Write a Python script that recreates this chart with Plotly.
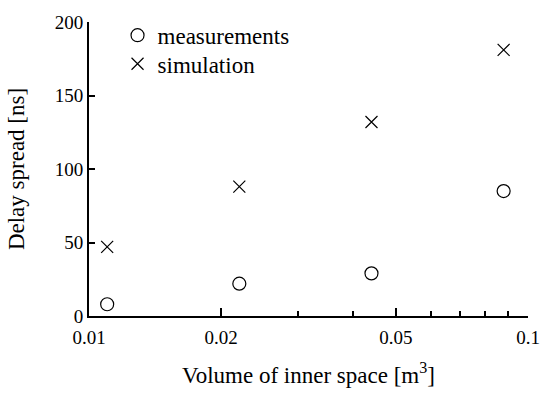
import plotly.graph_objects as go

# Inner-space volume [m^3] and delay spread [ns]
volume = [0.011, 0.022, 0.044, 0.088]
measured = [8, 22, 29, 85]
simulated = [47, 88, 132, 181]

x_ticks = [0.01, 0.02, 0.05, 0.1]
x_tick_text = ["0.01", "0.02", "0.05", "0.1"]
x_minor = [0.03, 0.04, 0.06, 0.07, 0.08, 0.09]
y_ticks = [0, 50, 100, 150, 200]

FAMILY = "Liberation Serif"


def serif(size):
    return dict(family=FAMILY, size=size, color="black")


def legend_box(y):
    return dict(x=0.065, y=y, xanchor="left", yanchor="top",
                bgcolor="rgba(0,0,0,0)", font=serif(23))


fig = go.Figure()
fig.add_trace(go.Scatter(
    x=volume, y=measured, mode="markers", name="measurements",
    legend="legend",
    marker=dict(symbol="circle-open", size=13, color="black",
                line=dict(width=1.2, color="black")),
))
fig.add_trace(go.Scatter(
    x=volume, y=simulated, mode="markers", name="simulation",
    legend="legend2",
    marker=dict(symbol="x-thin-open", size=12, color="black",
                line=dict(width=1.2, color="black")),
))

fig.update_layout(
    width=552, height=401,
    margin=dict(l=89, r=13, t=16, b=85),
    paper_bgcolor="white", plot_bgcolor="white",
    font=serif(19),
    showlegend=True,
    legend=legend_box(1.028),
    legend2=legend_box(0.931),
    xaxis=dict(
        type="log", range=[-2, -1],
        tickvals=x_ticks, ticktext=x_tick_text,
        ticks="inside", ticklen=8, tickwidth=1.5, tickcolor="black",
        minor=dict(tickvals=x_minor, ticks="inside", ticklen=5,
                   tickwidth=1.5, tickcolor="black", showgrid=False),
        showline=True, linecolor="black", linewidth=1.8,
        showgrid=False, zeroline=False,
        tickfont=serif(19), ticklabelstandoff=3,
        title=dict(text="Volume of inner space [m<sup>3</sup>]",
                   font=serif(23), standoff=20),
    ),
    yaxis=dict(
        range=[0, 200], tickvals=y_ticks,
        ticks="inside", ticklen=6, tickwidth=1.5, tickcolor="black",
        showline=True, linecolor="black", linewidth=1.8,
        showgrid=False, zeroline=False,
        tickfont=serif(19),
        title=dict(text="Delay spread [ns]", font=serif(23), standoff=24),
    ),
)

fig.write_html("out.html")
